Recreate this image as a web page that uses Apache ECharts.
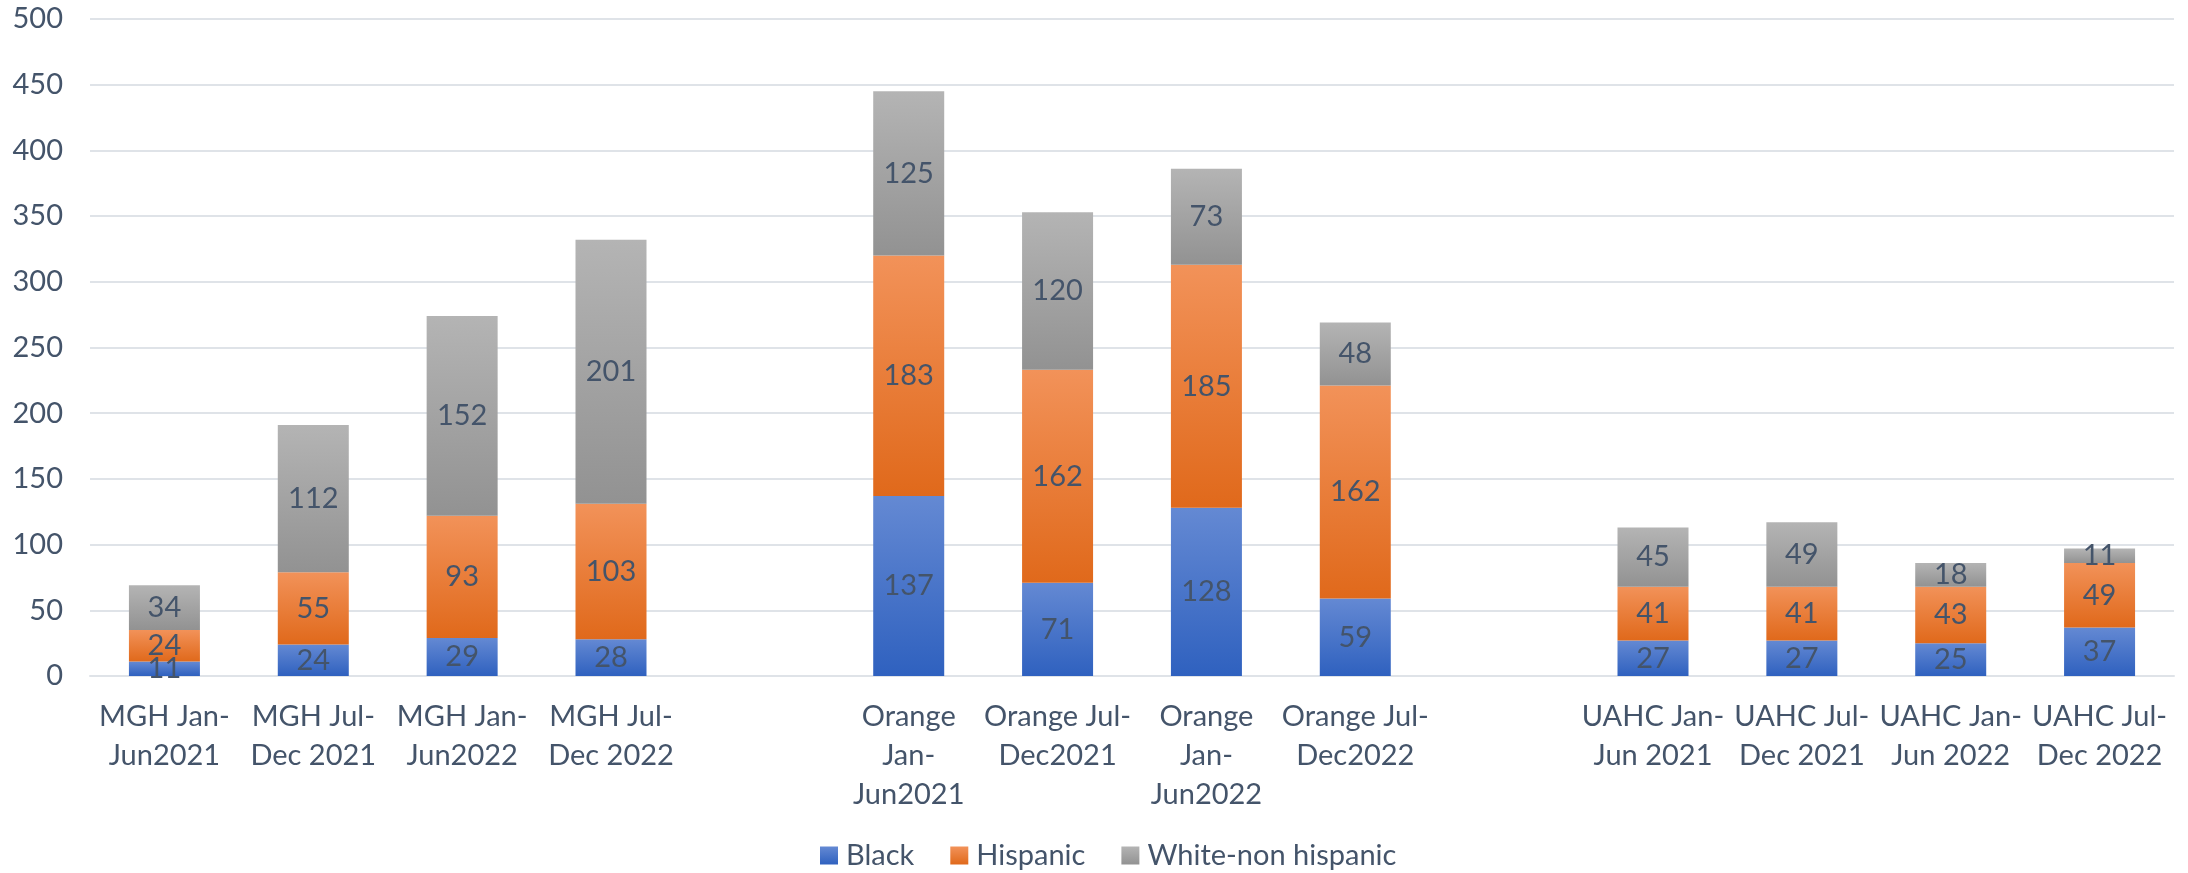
<!DOCTYPE html>
<html>
<head>
<meta charset="utf-8">
<script src="https://cdn.jsdelivr.net/npm/echarts@6/dist/echarts.min.js"></script>
<style>
  html, body { margin: 0; padding: 0; background: #fff; }
  #main { width: 2188px; height: 873px; }
</style>
</head>
<body>
<div id="main"></div>
<script>
// 类别（空白类别用作分组间隔）
const categories = [
  'MGH Jan-\nJun2021', 'MGH Jul-\nDec 2021', 'MGH Jan-\nJun2022', 'MGH Jul-\nDec 2022',
  ' ',
  'Orange\nJan-\nJun2021', 'Orange Jul-\nDec2021', 'Orange\nJan-\nJun2022', 'Orange Jul-\nDec2022',
  '  ',
  'UAHC Jan-\nJun 2021', 'UAHC Jul-\nDec 2021', 'UAHC Jan-\nJun 2022', 'UAHC Jul-\nDec 2022'
];
const seriesNames = ['Black', 'Hispanic', 'White-non hispanic'];
const black = [11, 24, 29, 28, null, 137, 71, 128, 59, null, 27, 27, 25, 37];
const hispanic = [24, 55, 93, 103, null, 183, 162, 185, 162, null, 41, 41, 43, 49];
const white = [34, 112, 152, 201, null, 125, 120, 73, 48, null, 45, 49, 18, 11];
const yTicks = [0, 50, 100, 150, 200, 250, 300, 350, 400, 450, 500];

const textColor = '#44546a';
const fontFamily = 'Lato, "Open Sans", sans-serif';
const fontSize = 29;

function grad(top, bottom) {
  return new echarts.graphic.LinearGradient(0, 0, 0, 1, [
    { offset: 0, color: top },
    { offset: 1, color: bottom }
  ]);
}

const fills = [
  grad('#6489d3', '#2f61bf'),
  grad('#f29259', '#e0691b'),
  grad('#b4b4b4', '#929292')
];

function makeSeries(name, data, i) {
  return {
    name: name,
    type: 'bar',
    stack: 'total',
    barWidth: 71,
    data: data,
    itemStyle: { color: fills[i] },
    label: {
      show: true,
      position: 'inside',
      color: textColor,
      fontFamily: fontFamily,
      fontSize: fontSize
    },
    emphasis: { disabled: true }
  };
}

const chart = echarts.init(document.getElementById('main'));
chart.setOption({
  animation: false,
  grid: { left: 90, right: 14, top: 19, bottom: 197 },
  legend: {
    top: 836,
    left: 815,
    itemWidth: 18,
    itemHeight: 18,
    itemGap: 36,
    icon: 'rect',
    textStyle: { color: textColor, fontFamily: fontFamily, fontSize: fontSize, padding: [0, 0, 0, 3] },
    data: seriesNames
  },
  xAxis: {
    type: 'category',
    data: categories,
    axisLine: { show: true, lineStyle: { color: '#dfe3e8', width: 2 } },
    axisTick: { show: false },
    axisLabel: {
      interval: 0,
      color: textColor,
      fontFamily: fontFamily,
      fontSize: fontSize,
      lineHeight: 39,
      margin: 21
    }
  },
  yAxis: {
    type: 'value',
    min: yTicks[0],
    max: yTicks[yTicks.length - 1],
    interval: yTicks[1] - yTicks[0],
    axisLine: { show: false },
    axisTick: { show: false },
    splitLine: { lineStyle: { color: '#dfe3e8', width: 2 } },
    axisLabel: {
      color: textColor,
      fontFamily: fontFamily,
      fontSize: fontSize,
      margin: 27
    }
  },
  series: [
    makeSeries(seriesNames[0], black, 0),
    makeSeries(seriesNames[1], hispanic, 1),
    makeSeries(seriesNames[2], white, 2)
  ]
});
</script>
</body>
</html>
